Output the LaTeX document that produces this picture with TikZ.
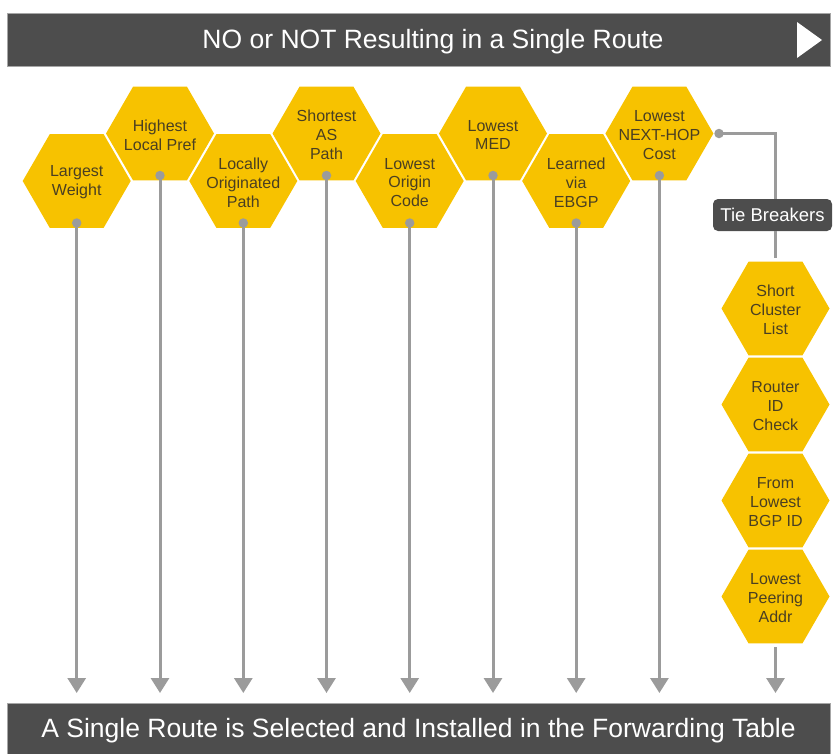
\documentclass[tikz,border=0pt]{standalone}
\usepackage{fontspec}
\setmainfont{Liberation Sans}
\usetikzlibrary{shapes.geometric,arrows.meta}
\definecolor{hexyellow}{HTML}{F7C200}
\definecolor{hextxt}{HTML}{4A3F22}
\definecolor{darkbar}{HTML}{4D4D4D}
\definecolor{linegray}{HTML}{9B9B9B}
\tikzset{
  hexa/.style={regular polygon, regular polygon sides=6, minimum size=108pt, inner sep=0pt, fill=hexyellow, draw=none},
  hext/.style={align=center, inner sep=0pt, text=hextxt, font=\fontsize{16}{18.8}\selectfont, yshift=-1.5pt},
  dot/.style={circle, fill=linegray, minimum size=9.5pt, inner sep=0pt},
  conn/.style={draw=linegray, line width=3pt, -{Triangle[width=18pt,length=15pt]}},
  plain/.style={draw=linegray, line width=3pt},
  banner/.style={fill=darkbar, draw=gray!70, line width=0.6pt, inner sep=0pt},
  bantext/.style={text=white, inner sep=0pt, font=\fontsize{26.5}{30}\selectfont},
  tbbox/.style={fill=darkbar, rounded corners=5pt, minimum width=119pt, minimum height=32pt, inner sep=0pt, text=white, font=\fontsize{18.5}{22}\selectfont}
}
\begin{document}
\begin{tikzpicture}[x=1pt,y=-1pt]
\useasboundingbox (0,0) rectangle (835,753);
% top banner
\node[banner, minimum width=823pt, minimum height=53pt] (topbar) at (418.5,39.5) {};
\node[bantext] (toptext) at (433,41.5) {NO or NOT Resulting in a Single Route};
\fill[white] (797,22) -- (822,40) -- (797,58) -- cycle;
% bottom banner
\node[banner, minimum width=823pt, minimum height=52pt] (botbar) at (418.5,729) {};
\node[bantext] (bottext) at (418.5,730.5) {A Single Route is Selected and Installed in the Forwarding Table};
% main hexagons
\node[hexa] (h1) at (76.7,181) {};
\node[hexa] (h2) at (160,133.5) {};
\node[hexa] (h3) at (243.3,181) {};
\node[hexa] (h4) at (326.5,133.5) {};
\node[hexa] (h5) at (409.7,181) {};
\node[hexa] (h6) at (493,133.5) {};
\node[hexa] (h7) at (576.2,181) {};
\node[hexa] (h8) at (659.4,133.5) {};
\node[hext] (t1) at (h1) {Largest\\Weight};
\node[hext] (t2) at (h2) {Highest\\Local Pref};
\node[hext] (t3) at (h3) {Locally\\Originated\\Path};
\node[hext] (t4) at (h4) {Shortest\\AS\\Path};
\node[hext] (t5) at (h5) {Lowest\\Origin\\Code};
\node[hext] (t6) at (h6) {Lowest\\MED};
\node[hext] (t7) at (h7) {Learned\\via\\EBGP};
\node[hext] (t8) at (h8) {Lowest\\NEXT-HOP\\Cost};
% dots
\node[dot] (d1) at (76.7,223) {};
\node[dot] (d2) at (160,175.5) {};
\node[dot] (d3) at (243.3,223) {};
\node[dot] (d4) at (326.5,175.5) {};
\node[dot] (d5) at (409.7,223) {};
\node[dot] (d6) at (493,175.5) {};
\node[dot] (d7) at (576.2,223) {};
\node[dot] (d8) at (719,133.5) {};
\node[dot] (d8b) at (659.4,175.5) {};
% arrow ends
\coordinate (e1) at (76.7,693);
\coordinate (e2) at (160,693);
\coordinate (e3) at (243.3,693);
\coordinate (e4) at (326.5,693);
\coordinate (e5) at (409.7,693);
\coordinate (e6) at (493,693);
\coordinate (e7) at (576.2,693);
\coordinate (e8) at (659.4,693);
\coordinate (e9) at (775.5,693);
\draw[conn] (d1.center) -- (e1);
\draw[conn] (d2.center) -- (e2);
\draw[conn] (d3.center) -- (e3);
\draw[conn] (d4.center) -- (e4);
\draw[conn] (d5.center) -- (e5);
\draw[conn] (d6.center) -- (e6);
\draw[conn] (d7.center) -- (e7);
\draw[conn] (d8b.center) -- (e8);
% tie breakers
\node[tbbox] (tb) at (772.5,215) {Tie Breakers};
\coordinate (c1) at (775.5,133.5);
\node[hexa] (b1) at (775.5,308.5) {};
\node[hexa] (b2) at (775.5,404.5) {};
\node[hexa] (b3) at (775.5,500.5) {};
\node[hexa] (b4) at (775.5,596.5) {};
\node[hext] (s1) at (b1) {Short\\Cluster\\List};
\node[hext] (s2) at (b2) {Router\\ID\\Check};
\node[hext] (s3) at (b3) {From\\Lowest\\BGP ID};
\node[hext] (s4) at (b4) {Lowest\\Peering\\Addr};
\draw[plain] (d8.center) -- (c1) -- (c1 |- tb.north);
\draw[plain, shorten >=4pt] (c1 |- tb.south) -- (b1.north);
\draw[conn, shorten <=4pt] (b4.south) -- (e9);
\end{tikzpicture}
\end{document}
